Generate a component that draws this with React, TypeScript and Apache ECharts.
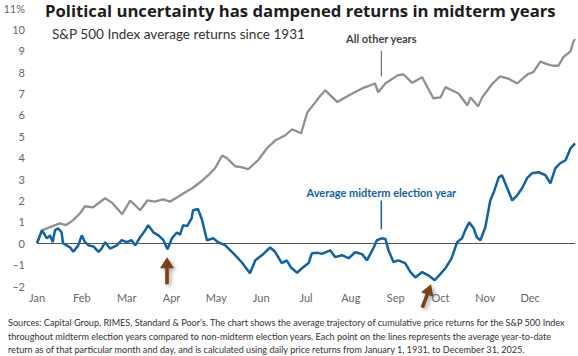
import React, { useEffect, useRef } from "react";
import * as echarts from "echarts";

const monthLabels = ["Jan", "Feb", "Mar", "Apr", "May", "Jun", "Jul", "Aug", "Sep", "Oct", "Nov", "Dec"];
const yTicks = [-2, -1, 0, 1, 2, 3, 4, 5, 6, 7, 8, 9, 10, 11];

// x positions are fractions of the year, in months (0 = Jan 1, 12 = Dec 31)
const otherX = [0, 0.11, 0.29, 0.51, 0.65, 0.8, 0.96, 1.07, 1.25, 1.45, 1.52, 1.67, 1.9, 2.08, 2.3, 2.46, 2.63, 2.81, 2.97, 3.13, 3.28, 3.46, 3.64, 3.82, 3.97, 4.13, 4.24, 4.42, 4.58, 4.71, 4.93, 5.13, 5.31, 5.54, 5.69, 5.89, 6.03, 6.21, 6.32, 6.43, 6.7, 6.94, 7.25, 7.54, 7.61, 7.77, 8.04, 8.17, 8.37, 8.59, 8.84, 9.0, 9.11, 9.4, 9.6, 9.67, 9.84, 9.93, 10.16, 10.33, 10.51, 10.71, 10.94, 11.07, 11.23, 11.34, 11.5, 11.63, 11.74, 11.9, 11.96, 12];
const otherY = [0, 0.6, 0.75, 0.93, 0.85, 1.07, 1.4, 1.73, 1.68, 2.0, 2.1, 1.9, 1.36, 2.0, 1.54, 2.0, 1.95, 2.05, 1.95, 2.15, 2.35, 2.57, 2.85, 3.18, 3.5, 4.1, 3.97, 3.6, 3.55, 3.46, 3.88, 4.44, 4.8, 5.05, 5.33, 5.14, 6.12, 6.6, 6.9, 7.15, 6.6, 6.9, 7.24, 7.47, 7.06, 7.47, 7.85, 7.9, 7.5, 7.76, 6.78, 6.82, 7.3, 7.0, 6.45, 6.82, 6.4, 6.82, 7.47, 7.8, 7.7, 7.47, 7.9, 8.0, 8.5, 8.4, 8.3, 8.3, 8.7, 8.97, 9.4, 9.55];

const midX = [0, 0.11, 0.22, 0.29, 0.35, 0.4, 0.47, 0.55, 0.58, 0.66, 0.74, 0.81, 0.92, 1.0, 1.07, 1.15, 1.26, 1.37, 1.44, 1.52, 1.63, 1.78, 1.89, 2.0, 2.11, 2.19, 2.3, 2.41, 2.48, 2.6, 2.71, 2.82, 2.91, 3.01, 3.12, 3.19, 3.26, 3.35, 3.45, 3.48, 3.59, 3.68, 3.79, 3.93, 4.04, 4.2, 4.38, 4.57, 4.75, 4.87, 5.05, 5.2, 5.31, 5.46, 5.57, 5.67, 5.8, 5.91, 6.06, 6.13, 6.27, 6.35, 6.54, 6.65, 6.8, 6.95, 7.1, 7.25, 7.36, 7.51, 7.58, 7.69, 7.77, 7.84, 7.95, 8.06, 8.21, 8.33, 8.44, 8.59, 8.73, 8.87, 8.97, 9.11, 9.25, 9.37, 9.48, 9.55, 9.64, 9.74, 9.81, 9.89, 10.0, 10.11, 10.19, 10.3, 10.37, 10.48, 10.6, 10.71, 10.82, 10.93, 11.04, 11.19, 11.34, 11.45, 11.56, 11.67, 11.79, 11.9, 12];
const midY = [0, 0.6, 0.23, 0.37, 0.05, 0.6, 0.7, 0.5, 0.0, -0.1, -0.2, -0.4, -0.1, 0.37, 0.05, -0.1, -0.15, -0.4, -0.25, 0.05, -0.25, -0.1, 0.14, 0.05, 0.14, -0.1, 0.28, 0.6, 0.84, 0.5, 0.37, 0.14, -0.28, 0.23, 0.5, 0.4, 0.84, 0.8, 1.17, 1.54, 1.6, 1.1, 0.14, 0.23, 0.05, -0.1, -0.47, -0.9, -1.4, -0.8, -0.5, -0.2, -0.4, -0.93, -0.8, -1.15, -1.38, -1.17, -0.93, -0.47, -0.45, -0.5, -0.33, -0.65, -0.56, -0.7, -0.42, -0.51, -0.8, -0.2, 0.14, 0.23, 0.2, -0.33, -0.88, -0.8, -0.93, -1.35, -1.6, -1.35, -1.5, -1.73, -1.5, -1.17, -0.7, 0.05, 0.23, 0.6, 0.98, 0.7, 0.28, 0.14, 0.75, 2.0, 2.4, 3.08, 3.18, 2.62, 2.0, 2.24, 2.57, 3.04, 3.27, 3.32, 3.18, 2.8, 3.5, 3.74, 3.88, 4.44, 4.67];

const titleText = "Political uncertainty has dampened returns in midterm years";
const subtitleText = "S&P 500 Index average returns since 1931";
const otherLabel = "All other years";
const midLabel = "Average midterm election year";
const footerLines = [
  "Sources: Capital Group, RIMES, Standard & Poor\u2019s. The chart shows the average trajectory of cumulative price returns for the S&P 500 Index",
  "throughout midterm election years compared to non-midterm election years. Each point on the lines represents the average year-to-date",
  "return as of that particular month and day, and is calculated using daily price returns from January 1, 1931, to December 31, 2025.",
];

// annotation anchors in data coordinates [month, value]
const otherLabelAt = [7.68, 9.58];
const otherLeader = [[7.68, 9.0], [7.68, 7.8]];
const midLabelAt = [7.68, 2.38];
const midLeader = [[7.68, 2.0], [7.68, 0.65]];
const arrow1Tip = [2.9, -0.65];
const arrow2Tip = [8.79, -1.92];

const FONT = "Lato, 'Open Sans', sans-serif";
const TITLE_FONT = "'Open Sans', Lato, sans-serif";
const BLUE = "#0f62a6";
const GRAY = "#8b9196";
const BROWN = "#7a3f12";

function arrowPoints(tx: number, ty: number, dx: number, dy: number, len: number, head: number, hw: number, sw: number) {
  const m = Math.hypot(dx, dy);
  const ux = dx / m, uy = dy / m;
  const nx = -uy, ny = ux;
  const bx = tx - ux * head, by = ty - uy * head;
  const ex = tx - ux * len, ey = ty - uy * len;
  return [
    [tx, ty],
    [bx + nx * hw, by + ny * hw],
    [bx + nx * sw, by + ny * sw],
    [ex + nx * sw, ey + ny * sw],
    [ex - nx * sw, ey - ny * sw],
    [bx - nx * sw, by - ny * sw],
    [bx - nx * hw, by - ny * hw],
  ];
}

export default function App() {
  const ref = useRef<HTMLDivElement>(null);
  useEffect(() => {
    if (!ref.current) return;
    const chart = echarts.init(ref.current, null, { renderer: "svg" });
    chart.setOption({
      animation: false,
      grid: { left: 37, right: 3, top: 8, bottom: 70 },
      xAxis: {
        type: "value",
        min: 0,
        max: 12,
        interval: 1,
        axisLine: { show: false },
        axisTick: { show: false },
        splitLine: { show: false },
        axisLabel: {
          margin: 6,
          color: "#666",
          fontSize: 11,
          fontFamily: FONT,
          formatter: (v: number) => monthLabels[Math.round(v)] ?? "",
        },
      },
      yAxis: {
        type: "value",
        min: yTicks[0],
        max: yTicks[yTicks.length - 1],
        interval: 1,
        axisLine: { show: false },
        axisTick: { show: false },
        splitLine: { show: false },
        axisLabel: {
          margin: 12,
          color: "#666",
          fontSize: 11,
          fontFamily: FONT,
          formatter: (v: number) => (v === 11 ? "11%" : v < 0 ? "\u2212" + Math.abs(v) : String(v)),
        },
      },
      series: [
        {
          type: "line",
          data: otherX.map((x, i) => [x, otherY[i]]),
          showSymbol: false,
          lineStyle: { color: GRAY, width: 2.3 },
          z: 2,
        },
        {
          type: "line",
          data: midX.map((x, i) => [x, midY[i]]),
          showSymbol: false,
          lineStyle: { color: BLUE, width: 2.5 },
          z: 3,
          markLine: {
            silent: true,
            symbol: "none",
            label: { show: false },
            lineStyle: { color: "#555", width: 1, type: "solid" },
            data: [{ yAxis: 0 }],
            z: 1,
          },
        },
      ],
    });

    const px = (p: number[]) => chart.convertToPixel({ gridIndex: 0 }, p) as number[];
    const oL = px(otherLabelAt);
    const oA = px(otherLeader[0]);
    const oB = px(otherLeader[1]);
    const mL = px(midLabelAt);
    const mA = px(midLeader[0]);
    const mB = px(midLeader[1]);
    const a1 = px(arrow1Tip);
    const a2 = px(arrow2Tip);
    const shadow = { shadowBlur: 4, shadowColor: "rgba(0,0,0,0.35)", shadowOffsetX: 2, shadowOffsetY: 2 };

    chart.setOption({
      graphic: [
        { type: "text", left: 45, top: 2, style: { text: titleText, fontSize: 16.7, fontWeight: "bold", fontFamily: TITLE_FONT, fill: "#1c1c1c" } },
        { type: "text", left: 52, top: 27, style: { text: subtitleText, fontSize: 13.6, fontFamily: FONT, fill: "#333" } },
        { type: "text", x: oL[0], y: oL[1], style: { text: otherLabel, fontSize: 11, fontWeight: "bold", fontFamily: FONT, fill: "#444", align: "center", verticalAlign: "middle" } },
        { type: "line", shape: { x1: oA[0], y1: oA[1], x2: oB[0], y2: oB[1] }, style: { stroke: "#555", lineWidth: 1 } },
        { type: "text", x: mL[0], y: mL[1], style: { text: midLabel, fontSize: 11, fontWeight: "bold", fontFamily: FONT, fill: BLUE, align: "center", verticalAlign: "middle" } },
        { type: "line", shape: { x1: mA[0], y1: mA[1], x2: mB[0], y2: mB[1] }, style: { stroke: BLUE, lineWidth: 1.5 } },
        { type: "polygon", shape: { points: arrowPoints(a1[0], a1[1], 0, -1, 27, 11, 7, 1.8) }, style: { fill: BROWN, ...shadow } },
        { type: "polygon", shape: { points: arrowPoints(a2[0], a2[1], 9, -24, 25, 11, 6.5, 1.8) }, style: { fill: BROWN, ...shadow } },
        ...footerLines.map((t, i) => ({
          type: "text",
          left: 8,
          top: 318 + i * 13.5,
          style: { text: t, fontSize: 9.1, fontFamily: FONT, fill: "#333" },
        })),
      ],
    });
    return () => chart.dispose();
  }, []);
  return <div ref={ref} style={{ width: 578, height: 356, position: "absolute", left: 0, top: 0 }} />;
}
